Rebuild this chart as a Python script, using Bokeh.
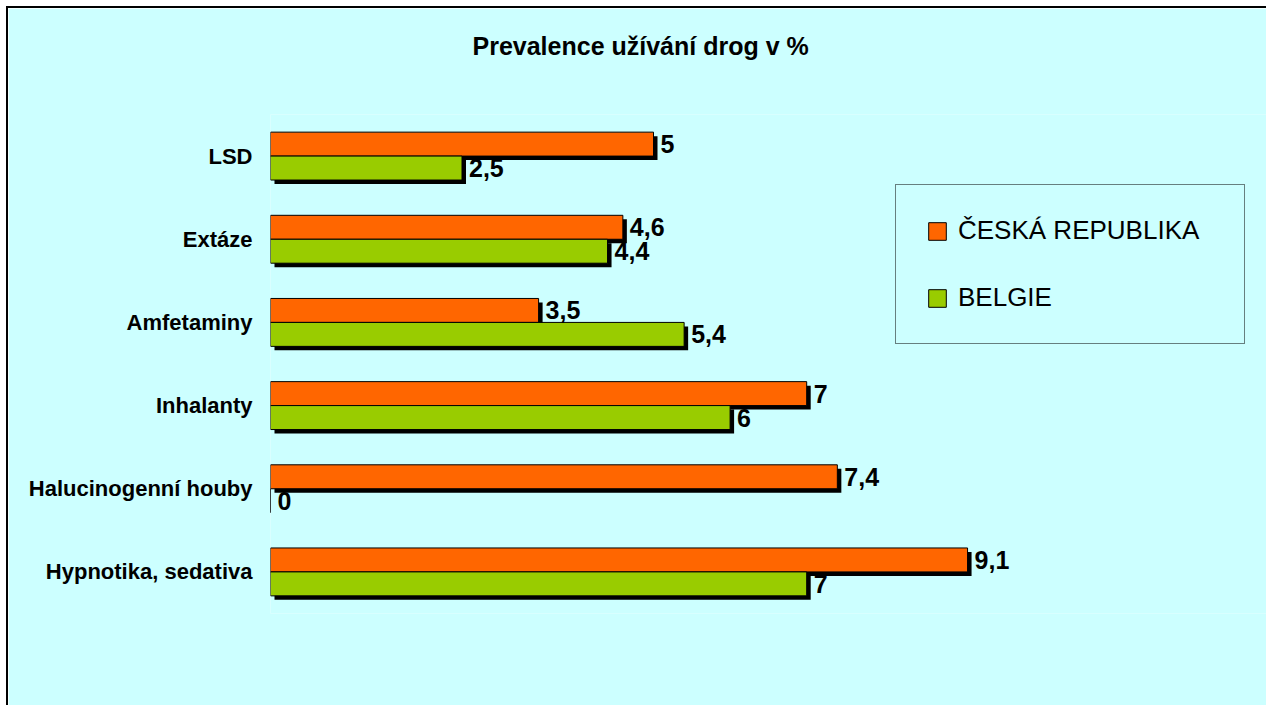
from bokeh.plotting import figure
from bokeh.models import ColumnDataSource, FactorRange, LabelSet, Legend, LegendItem, Title
from bokeh.transform import dodge
from bokeh.core.properties import value
from bokeh.embed import file_html
from bokeh.resources import INLINE

# ---- data (top to bottom as in the chart) ----
categories = ["LSD", "Extáze", "Amfetaminy", "Inhalanty", "Halucinogenní houby", "Hypnotika, sedativa"]
cz_values = [5.0, 4.6, 3.5, 7.0, 7.4, 9.1]
be_values = [2.5, 4.4, 5.4, 6.0, 0.0, 7.0]
series_names = ["ČESKÁ REPUBLIKA", "BELGIE"]
title_text = "Prevalence užívání drog v %"


def fmt(v):
    s = ("%g" % v)
    return s.replace(".", ",")


BG = "#CCFFFF"
ORANGE = "#FF6600"
GREEN = "#99CC00"
FONT = "Liberation Sans"

PX_PER_UNIT = 76.6
FRAME_W = 998
SH_DX = 4 / PX_PER_UNIT      # shadow offset in x (data units)
SH_DY = 4 / 83.2             # shadow offset in y (category units)
OFF = 0.144
BAR_H = 0.288

src = ColumnDataSource(dict(
    cat=categories,
    cz=cz_values,
    be=be_values,
    cz_lbl=[fmt(v) for v in cz_values],
    be_lbl=[fmt(v) for v in be_values],
))

p = figure(
    width=1260, height=699,
    y_range=FactorRange(factors=list(reversed(categories))),
    x_range=(0, FRAME_W / PX_PER_UNIT),
    output_backend="svg", toolbar_location=None,
    min_border_left=262, min_border_right=0,
    min_border_top=106, min_border_bottom=94,
)
p.styles = {"border-left": "2px solid black", "border-top": "2px solid black",
            "margin-left": "6px", "margin-top": "6px"}
p.background_fill_color = BG
p.border_fill_color = BG
p.outline_line_color = None
p.xgrid.visible = False
p.ygrid.visible = False
p.xaxis.visible = False

ya = p.yaxis[0]
ya.axis_line_color = None
ya.major_tick_line_color = None
ya.minor_tick_line_color = None
ya.major_tick_out = 0
ya.major_tick_in = 0
ya.major_label_text_font = FONT
ya.major_label_text_font_style = "bold"
ya.major_label_text_font_size = "22px"
ya.major_label_text_color = "black"
ya.major_label_standoff = 18

# shadows
p.hbar(y=dodge("cat", OFF - SH_DY, range=p.y_range), left=SH_DX,
       right=dodge("cz", SH_DX), height=BAR_H, source=src,
       fill_color="black", line_color=None)
p.hbar(y=dodge("cat", -OFF - SH_DY, range=p.y_range), left=SH_DX,
       right=dodge("be", SH_DX), height=BAR_H, source=src,
       fill_color="black", line_color=None)

# bars
r_cz = p.hbar(y=dodge("cat", OFF, range=p.y_range), left=0, right="cz",
              height=BAR_H, source=src, fill_color=ORANGE, line_color="black", line_width=1)
r_be = p.hbar(y=dodge("cat", -OFF, range=p.y_range), left=0, right="be",
              height=BAR_H, source=src, fill_color=GREEN, line_color="black", line_width=1)

# value labels
for fld, lbl, off in (("cz", "cz_lbl", OFF), ("be", "be_lbl", -OFF)):
    ls = LabelSet(x=fld, y=dodge("cat", off, range=p.y_range), text=lbl, source=src,
                  x_offset=7, text_align="left", text_baseline="middle",
                  text_font=value(FONT), text_font_style="bold",
                  text_font_size="25px", text_color="black")
    p.add_layout(ls)

legend = Legend(
    items=[LegendItem(label=series_names[0], renderers=[r_cz]),
           LegendItem(label=series_names[1], renderers=[r_be])],
    location=(625, 269),
    orientation="vertical",
    padding=30, spacing=36, margin=0,
    glyph_width=22, glyph_height=22,
    label_height=30, label_width=256, label_standoff=10,
    label_text_font=FONT, label_text_font_size="26px", label_text_color="black",
    border_line_color="black", border_line_width=1,
    background_fill_color=BG, background_fill_alpha=1.0,
)
p.add_layout(legend, "center")

# spacer between frame and title, then the title itself
p.add_layout(Title(text=" ", standoff=25, text_font=FONT, text_font_size="25px"), "above")
p.add_layout(Title(text=title_text, align="left", offset=202, standoff=0,
                   text_font=FONT, text_font_style="bold", text_font_size="25px",
                   text_color="black"), "above")

open("out.html", "w").write(file_html(p, INLINE))
